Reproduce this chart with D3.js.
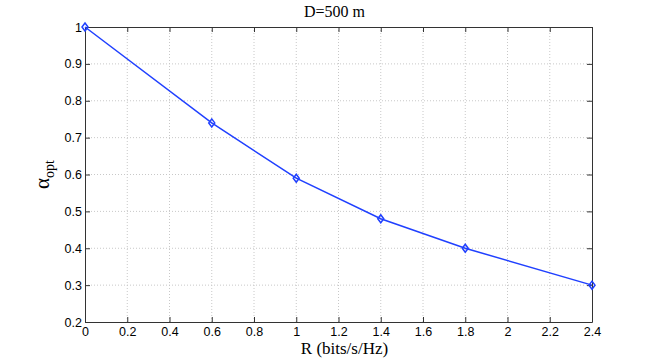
<!DOCTYPE html>
<html>
<head>
<meta charset="utf-8">
<script src="https://cdn.jsdelivr.net/npm/d3@7"></script>
<style>
  body { margin: 0; background: #fff; }
  .tick text { font-family: "Liberation Sans", Arial, sans-serif; font-size: 12.5px; fill: #000; }
  .grid line { stroke: #c8c8c8; stroke-dasharray: 1 2; }
</style>
</head>
<body>
<svg id="chart" width="654" height="363"></svg>
<script>
"use strict";

const rateValues = [0, 0.6, 1, 1.4, 1.8, 2.4];
const alphaValues = [1, 0.74, 0.59, 0.48, 0.40, 0.30];
const xTicks = [0, 0.2, 0.4, 0.6, 0.8, 1, 1.2, 1.4, 1.6, 1.8, 2, 2.2, 2.4];
const yTicks = [0.2, 0.3, 0.4, 0.5, 0.6, 0.7, 0.8, 0.9, 1];
const title = 'D=500 m';
const xLabel = 'R (bits/s/Hz)';

const margin = { top: 27, right: 62, bottom: 41, left: 85 };
const width = 654 - margin.left - margin.right;
const height = 363 - margin.top - margin.bottom;
const lineColor = '#2040ff';

function translateStr(x, y) {
  return 'translate(' + x + ', ' + y + ')';
}

let x = d3.scaleLinear().domain([0, 2.4]).range([0, width]);
let y = d3.scaleLinear().domain([0.2, 1]).range([height, 0]);

let svg = d3.select('#chart')
  .append('g')
  .attr('transform', translateStr(margin.left, margin.top));

// dotted grid
svg.append('g')
  .attr('class', 'grid')
  .selectAll('line.v')
  .data(xTicks.slice(1, -1))
  .join('line')
  .attr('x1', d => x(d)).attr('x2', d => x(d))
  .attr('y1', 0).attr('y2', height);

svg.append('g')
  .attr('class', 'grid')
  .selectAll('line.h')
  .data(yTicks.slice(1, -1))
  .join('line')
  .attr('x1', 0).attr('x2', width)
  .attr('y1', d => y(d)).attr('y2', d => y(d));

function styleAxis(g) {
  g.select('.domain').attr('stroke', '#333');
  g.selectAll('.tick line').attr('stroke', '#333');
}

// bottom and left axes with labels, ticks pointing inward
svg.append('g')
  .attr('transform', translateStr(0, height))
  .call(d3.axisBottom(x).tickValues(xTicks).tickFormat(d3.format('~g'))
    .tickSizeInner(-5).tickSizeOuter(0).tickPadding(5))
  .call(styleAxis);

svg.append('g')
  .call(d3.axisLeft(y).tickValues(yTicks).tickFormat(d3.format('~g'))
    .tickSizeInner(-5).tickSizeOuter(0).tickPadding(3))
  .call(styleAxis);

// top and right axes, ticks only
svg.append('g')
  .call(d3.axisTop(x).tickValues(xTicks).tickFormat('')
    .tickSizeInner(-5).tickSizeOuter(0))
  .call(styleAxis);

svg.append('g')
  .attr('transform', translateStr(width, 0))
  .call(d3.axisRight(y).tickValues(yTicks).tickFormat('')
    .tickSizeInner(-5).tickSizeOuter(0))
  .call(styleAxis);

let data = rateValues.map((r, i) => ({ x: r, y: alphaValues[i] }));

let line = d3.line()
  .x(d => x(d.x))
  .y(d => y(d.y));

svg.append('path')
  .datum(data)
  .attr('fill', 'none')
  .attr('stroke', lineColor)
  .attr('stroke-width', 1.5)
  .attr('d', line);

svg.selectAll('path.marker')
  .data(data)
  .join('path')
  .attr('class', 'marker')
  .attr('transform', d => translateStr(x(d.x), y(d.y)))
  .attr('d', 'M0,-4L3,0L0,4L-3,0Z')
  .attr('fill', 'none')
  .attr('stroke', lineColor)
  .attr('stroke-width', 1.5);

// title and axis labels
svg.append('text')
  .attr('x', width / 2 - 4)
  .attr('y', -10)
  .attr('text-anchor', 'middle')
  .style('font-family', '"Liberation Serif", "Times New Roman", serif')
  .style('font-size', '16px')
  .text(title);

svg.append('text')
  .attr('x', width / 2 + 6)
  .attr('y', height + 32)
  .attr('text-anchor', 'middle')
  .style('font-family', '"Liberation Serif", "Times New Roman", serif')
  .style('font-size', '17px')
  .text(xLabel);

let yLab = svg.append('text')
  .attr('transform', translateStr(-36, height / 2) + ' rotate(-90)')
  .attr('text-anchor', 'middle')
  .style('font-family', '"Liberation Serif", "Times New Roman", serif');

yLab.append('tspan')
  .style('font-size', '21px')
  .text('α');
yLab.append('tspan')
  .style('font-size', '14px')
  .attr('dy', 5)
  .text('opt');
</script>
</body>
</html>
